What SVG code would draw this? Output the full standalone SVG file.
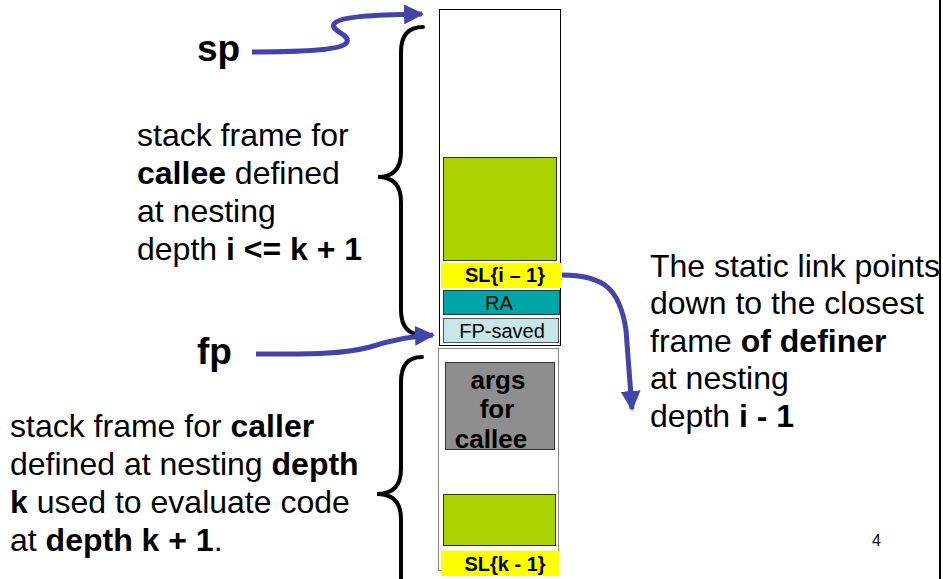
<svg xmlns="http://www.w3.org/2000/svg" width="943" height="579" viewBox="0 0 943 579">
  <style>
    text { font-family: "Liberation Sans", Arial, sans-serif; fill: #000; }
    .big { font-size: 32px; }
    .b { font-weight: bold; }
    .ptr { font-size: 37px; font-weight: bold; }
    .slot { font-size: 20px; text-anchor: middle; }
    .brace { fill: none; stroke: #000; stroke-width: 4; stroke-linecap: round; }
    .link { fill: none; stroke: #4343A8; stroke-width: 5; }
    .green { fill: #AAD300; stroke: #333; stroke-width: 1; }
  </style>
  <defs>
    <marker id="head" viewBox="0 0 10 10" refX="9" refY="5" markerWidth="4" markerHeight="4" orient="auto" markerUnits="strokeWidth">
      <path d="M0,0 L10,5 L0,10 z" fill="#4343A8"/>
    </marker>
    <clipPath id="args-clip">
      <rect x="445" y="362" width="110" height="88"/>
    </clipPath>
  </defs>

  <rect width="943" height="579" fill="#fff"/>
  <line x1="940" y1="0" x2="940" y2="579" stroke="#000" stroke-width="2"/>

  <!-- callee frame -->
  <g id="callee-frame">
    <rect x="439.5" y="9.5" width="121" height="336" fill="#fff" stroke="#000" stroke-width="1"/>
    <rect class="green" x="443.5" y="157.5" width="113" height="103"/>
  </g>
  <g id="sl-i">
    <rect x="441" y="263" width="120" height="25" fill="#FFFF00"/>
    <text class="slot b" x="505" y="282">SL{i – 1}</text>
  </g>
  <g id="ra">
    <rect x="443.5" y="290.5" width="116" height="24" fill="#00A6A6" stroke="#333" stroke-width="1"/>
    <text class="slot" x="499" y="310">RA</text>
  </g>
  <g id="fp-saved">
    <rect x="443.5" y="318.5" width="115" height="24" fill="#C6E6E8" stroke="#555" stroke-width="1"/>
    <text class="slot" x="502" y="338">FP-saved</text>
  </g>

  <!-- caller frame -->
  <g id="caller-frame">
    <rect x="438.5" y="348.5" width="120" height="222" fill="#fff" stroke="#888" stroke-width="1"/>
    <rect class="green" x="443.5" y="494.5" width="112" height="51"/>
  </g>
  <g id="args">
    <rect x="445.5" y="362.5" width="109" height="87" fill="#8E8E8E" stroke="#333" stroke-width="1"/>
    <g clip-path="url(#args-clip)">
      <text class="b" font-size="26" text-anchor="middle" x="498" y="389">args</text>
      <text class="b" font-size="26" text-anchor="middle" x="497" y="418">for</text>
      <text class="b" font-size="26" text-anchor="middle" x="491" y="448">callee</text>
    </g>
  </g>
  <g id="sl-k">
    <rect x="441" y="551" width="118" height="25" fill="#FFFF00"/>
    <text class="slot b" x="505" y="571">SL{k - 1}</text>
  </g>

  <!-- braces -->
  <g id="brace-callee">
    <path class="brace" d="M423,27 Q401,27 401,52 L401,152 Q401,177 378,177 Q401,177 401,202 L401,310 Q401,335 423,335"/>
  </g>
  <g id="brace-caller">
    <path class="brace" d="M422,357 Q401,357 401,382 L401,469 Q401,494 377,494 Q401,494 401,519 L401,582"/>
  </g>

  <!-- labels -->
  <g id="sp">
    <text class="ptr" x="197" y="61">sp</text>
  </g>
  <g id="fp">
    <text class="ptr" x="197" y="364">fp</text>
  </g>
  <g id="callee-label">
    <text class="big" x="137" y="146">stack frame for</text>
    <text class="big" x="137" y="184"><tspan class="b">callee</tspan> defined</text>
    <text class="big" x="137" y="222">at nesting</text>
    <text class="big" x="137" y="260">depth <tspan class="b">i &lt;= k + 1</tspan></text>
  </g>
  <g id="caller-label">
    <text class="big" x="10" y="437">stack frame for <tspan class="b">caller</tspan></text>
    <text class="big" x="10" y="475">defined at nesting <tspan class="b">depth</tspan></text>
    <text class="big" x="10" y="513"><tspan class="b">k</tspan> used to evaluate code</text>
    <text class="big" x="10" y="551">at <tspan class="b">depth k + 1</tspan>.</text>
  </g>
  <g id="static-link-note">
    <text class="big" x="650" y="277">The static link points</text>
    <text class="big" x="650" y="314">down to the closest</text>
    <text class="big" x="650" y="352">frame <tspan class="b">of definer</tspan></text>
    <text class="big" x="650" y="389">at nesting</text>
    <text class="big" x="650" y="427">depth <tspan class="b">i - 1</tspan></text>
  </g>
  <g id="page-number">
    <text x="872" y="546" font-size="16">4</text>
  </g>

  <!-- connectors -->
  <g id="connectors">
    <path class="link" marker-end="url(#head)" d="M252,52 C300,52 344,50 347,42 C350,34 330,31 334,24 C339,16 375,15 422,14"/>
    <path class="link" marker-end="url(#head)" d="M256,354 C300,354 340,355 370,347 C392,340 410,336 433,335"/>
    <path class="link" marker-end="url(#head)" d="M562,275 C605,275 620,290 626,330 L632,409"/>
  </g>
</svg>
